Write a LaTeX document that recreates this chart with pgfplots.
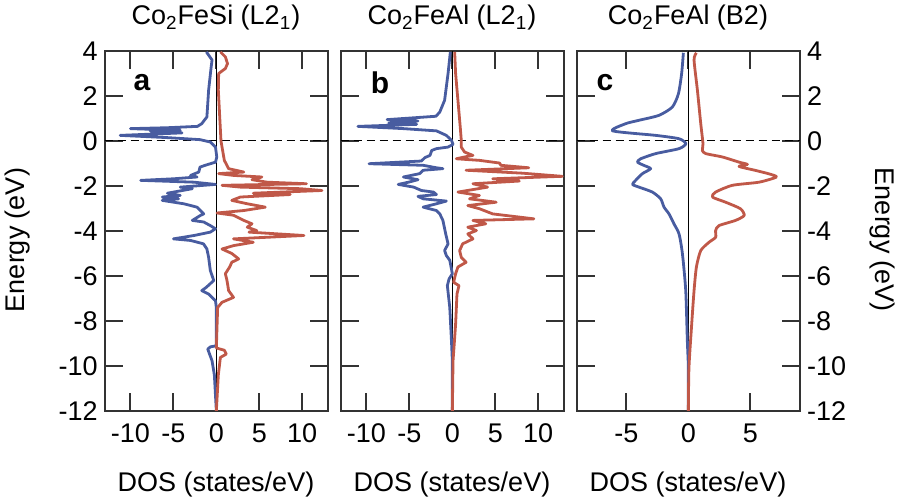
\documentclass[border=0pt]{standalone}
\usepackage{fontspec}
\setmainfont{Liberation Sans}
\usepackage{pgfplots}
\pgfplotsset{compat=1.18}
\definecolor{dblue}{RGB}{72,92,160}
\definecolor{dred}{RGB}{192,88,72}
\newcommand\fs{\fontsize{13.5pt}{15pt}\selectfont}
\pgfplotsset{dosaxis/.style={
  scale only axis, width=111.65pt, height=180pt, anchor=south west,
  ymin=-12, ymax=4, ytick={-12,-10,...,4},
  tick align=inside, xtick pos=both, ytick pos=both,
  major tick length=9pt,
  axis line style={black!80, line width=1pt},
  every tick/.style={black!80, line width=1pt},
  ticklabel style={font=\fs},
  /pgf/number format/assume math mode=true,
  xticklabel style={yshift=-3pt},
  every axis plot/.append style={line width=1.4pt, line join=round},
}}
\begin{document}
\begin{tikzpicture}
% ---------------- panel a
\begin{axis}[dosaxis, at={(52.35pt,46.5pt)}, xmin=-13, xmax=13, xtick={-10,-5,0,5,10}, yticklabel pos=left]
\addplot[black, line width=0.5pt, dash pattern=on 4pt off 2.5pt] coordinates {(-13,0) (13,0)};
\addplot[black, line width=0.7pt] coordinates {(0,-12) (0,4)};
\addplot[dblue] coordinates {
(-1.16,3.96) (-0.5,3.6) (-0.6,3.3) (-0.9,2.26) (-1.1,1.07) (-1.7,0.77) (-2.2,0.65) (-5.7,0.59) (-10.0,0.55) (-4.2,0.475) (-7.7,0.45) (-4.0,0.36) (-11.2,0.25) (-5.7,0.15) (-1.9,0.06) (-0.7,-0.045) (-0.1,-0.27) (0.05,-0.71) (-0.1,-0.94) (-1.3,-1.08) (-1.9,-1.16) (-2.05,-1.38) (-3.0,-1.53) (-2.25,-1.6) (-5.0,-1.68) (-8.8,-1.75) (-2.6,-1.83) (-0.1,-1.93) (-4.2,-2.05) (-2.8,-2.12) (-5.7,-2.32) (-4.2,-2.42) (-6.3,-2.49) (-4.4,-2.57) (-6.3,-2.64) (-3.8,-2.79) (-2.25,-2.94) (-1.86,-3.09) (-1.47,-3.24) (-1.86,-3.31) (-2.8,-3.53) (-1.47,-3.6) (-0.7,-3.76) (-0.1,-3.9) (-0.7,-4.05) (-2.6,-4.2) (-5.0,-4.35) (-3.0,-4.42) (-1.5,-4.57) (-1.1,-4.8) (-0.9,-5.17) (-0.7,-5.76) (-0.3,-6.2) (-1.16,-6.5) (-1.7,-6.65) (-0.9,-6.8) (-0.1,-7.1) (0,-7.4) (0,-9.1) (-0.7,-9.15) (-1.0,-9.25) (-0.5,-9.77) (-0.23,-10.4) (0,-12)};
\addplot[dred] coordinates {
(0.47,3.96) (1.05,3.74) (1.3,3.44) (1.05,3.22) (0.27,3.0) (0.23,2.26) (0.54,0) (0.93,-0.86) (1.43,-1.23) (3.2,-1.38) (0.27,-1.45) (2.0,-1.53) (5.3,-1.6) (4.15,-1.72) (5.9,-1.83) (10.5,-1.9) (0.66,-1.97) (2.8,-2.05) (9.8,-2.12) (12.3,-2.2) (4.3,-2.32) (8.6,-2.38) (2.8,-2.49) (1.8,-2.64) (3.6,-2.79) (5.7,-2.94) (3.2,-3.09) (0.08,-3.2) (2.0,-3.3) (3.2,-3.53) (4.15,-3.68) (3.6,-3.83) (4.7,-3.98) (3.8,-4.05) (10.2,-4.2) (2.0,-4.35) (4.3,-4.5) (2.0,-4.65) (0.66,-4.8) (1.8,-5.0) (2.6,-5.24) (1.8,-5.39) (1.55,-5.6) (1.05,-5.9) (1.24,-6.2) (1.43,-6.65) (2.0,-6.95) (0.66,-7.17) (0.15,-7.4) (0,-9.2) (0.93,-9.3) (1.16,-9.47) (0.47,-9.62) (0.23,-10.4) (0,-12)};
\end{axis}
% ---------------- panel b
\begin{axis}[dosaxis, at={(170.35pt,46.5pt)}, xmin=-13, xmax=13, xtick={-10,-5,0,5,10}, yticklabels={}]
\addplot[black, line width=0.5pt, dash pattern=on 4pt off 2.5pt] coordinates {(-13,0) (13,0)};
\addplot[black, line width=0.7pt] coordinates {(0,-12) (0,4)};
\addplot[dblue] coordinates {
(-0.23,3.96) (-0.5,3.0) (-0.9,1.81) (-1.46,1.29) (-1.9,1.1) (-4.15,1.04) (-7.6,0.95) (-4.0,0.89) (-7.4,0.8) (-4.15,0.74) (-11.0,0.65) (-5.7,0.55) (-1.85,0.45) (-0.7,0.25) (-0.1,0.03) (0.08,-0.15) (-0.5,-0.27) (-1.85,-0.34) (-2.4,-0.42) (-2.6,-0.64) (-3.2,-0.74) (-3.6,-0.89) (-9.7,-1.01) (-3.4,-1.08) (-1.85,-1.19) (-1.1,-1.23) (-3.4,-1.3) (-3.8,-1.45) (-5.7,-1.6) (-4.0,-1.72) (-5.1,-1.83) (-6.3,-1.93) (-4.5,-2.05) (-3.6,-2.2) (-2.2,-2.27) (-1.85,-2.38) (-4.0,-2.46) (-3.4,-2.57) (-0.7,-2.67) (-1.85,-2.79) (-3.4,-2.94) (-1.85,-3.09) (-1.46,-3.24) (-1.1,-3.53) (-0.77,-4.13) (-0.5,-4.57) (-0.9,-4.87) (-0.7,-5.09) (-0.3,-5.3) (0,-5.9) (-0.38,-6.13) (-0.58,-6.43) (-0.3,-7.4) (-0.1,-8.9) (0,-9.77) (0,-12)};
\addplot[dred] coordinates {
(0.27,3.96) (0.38,3.0) (0.65,1.81) (0.92,0.62) (1.04,0.03) (1.04,-0.27) (1.42,-0.49) (2.4,-0.64) (1.42,-0.71) (0.46,-0.79) (3.15,-0.86) (5.5,-0.98) (5.65,-1.08) (8.9,-1.19) (1.6,-1.3) (8.15,-1.43) (12.8,-1.57) (4.7,-1.68) (7.8,-1.78) (2.4,-1.9) (4.1,-2.05) (0.65,-2.27) (3.15,-2.42) (2.0,-2.57) (5.1,-2.72) (1.8,-2.87) (3.15,-3.01) (4.7,-3.24) (9.5,-3.46) (2.4,-3.53) (3.9,-3.68) (1.8,-3.83) (2.8,-3.98) (1.8,-4.13) (2.4,-4.35) (1.2,-4.57) (0.85,-4.87) (1.04,-5.17) (1.6,-5.39) (0.65,-5.6) (0.38,-5.9) (0.15,-6.28) (0.77,-6.43) (0.54,-6.8) (0.38,-8.14) (0.19,-9.18) (0.08,-9.77) (0,-12)};
\end{axis}
% ---------------- panel c
\begin{axis}[dosaxis, at={(288.35pt,46.5pt)}, xmin=-9, xmax=9, xtick={-5,0,5}, yticklabel pos=right]
\addplot[black, line width=0.5pt, dash pattern=on 4pt off 2.5pt] coordinates {(-9,0) (9,0)};
\addplot[black, line width=0.7pt] coordinates {(0,-12) (0,4)};
\addplot[dblue, smooth, tension=0.4] coordinates {
(-0.4,3.92) (-0.54,3.0) (-0.8,2.1) (-1.29,1.51) (-2.37,1.14) (-3.98,0.92) (-5.05,0.77) (-6.1,0.45) (-2.63,0.25) (-0.75,0.1) (-0.2,-0.12) (-0.75,-0.34) (-2.63,-0.56) (-3.84,-0.79) (-4.1,-0.94) (-3.6,-1.08) (-3.04,-1.23) (-3.7,-1.45) (-4.25,-1.75) (-4.5,-1.93) (-3.98,-2.05) (-2.9,-2.27) (-2.23,-2.57) (-1.96,-2.94) (-1.56,-3.24) (-1.16,-3.68) (-0.75,-4.13) (-0.48,-5.0) (-0.21,-6.65) (-0.08,-8.9) (0,-10.07) (0,-12)};
\addplot[dred, smooth, tension=0.4] coordinates {
(0.65,3.92) (0.46,3.6) (0.73,2.26) (1.0,0.77) (1.18,-0.12) (1.13,-0.42) (1.4,-0.56) (2.74,-0.71) (4.09,-0.94) (4.76,-1.04) (4.09,-1.13) (5.43,-1.31) (6.5,-1.46) (7.1,-1.6) (5.7,-1.83) (3.55,-1.97) (2.2,-2.27) (1.94,-2.49) (3.0,-2.72) (4.2,-3.01) (4.5,-3.31) (3.8,-3.53) (2.47,-3.76) (2.2,-3.98) (2.2,-4.28) (1.67,-4.5) (1.0,-4.87) (0.65,-5.6) (0.46,-6.65) (0.27,-8.14) (0.05,-10.07) (0,-12)};
\end{axis}
% ---------------- texts
\begin{scope}[every node/.style={font=\fs, inner sep=0pt}]
\node at ({216*0.5pt},{(504-18)*0.5pt}) {Co\textsubscript{2}FeSi (L2\textsubscript{1})};
\node at ({452*0.5pt},{(504-18)*0.5pt}) {Co\textsubscript{2}FeAl (L2\textsubscript{1})};
\node at ({688*0.5pt},{(504-18)*0.5pt}) {Co\textsubscript{2}FeAl (B2)};
\node at ({216*0.5pt},{(504-485)*0.5pt}) {DOS (states/eV)};
\node at ({452*0.5pt},{(504-485)*0.5pt}) {DOS (states/eV)};
\node at ({688*0.5pt},{(504-485)*0.5pt}) {DOS (states/eV)};
\node[rotate=90] at ({18*0.5pt},{(504-240)*0.5pt}) {Energy (eV)};
\node[rotate=-90] at ({882*0.5pt},{(504-240)*0.5pt}) {Energy (eV)};
\node[font=\fontsize{15pt}{17pt}\selectfont\bfseries] at ({142*0.5pt},{(504-83)*0.5pt}) {a};
\node[font=\fontsize{15pt}{17pt}\selectfont\bfseries] at ({380*0.5pt},{(504-83)*0.5pt}) {b};
\node[font=\fontsize{15pt}{17pt}\selectfont\bfseries] at ({605*0.5pt},{(504-83)*0.5pt}) {c};
\end{scope}
\pgfresetboundingbox
\path[use as bounding box] (0,0) rectangle (451pt,252pt);
\end{tikzpicture}
\end{document}
